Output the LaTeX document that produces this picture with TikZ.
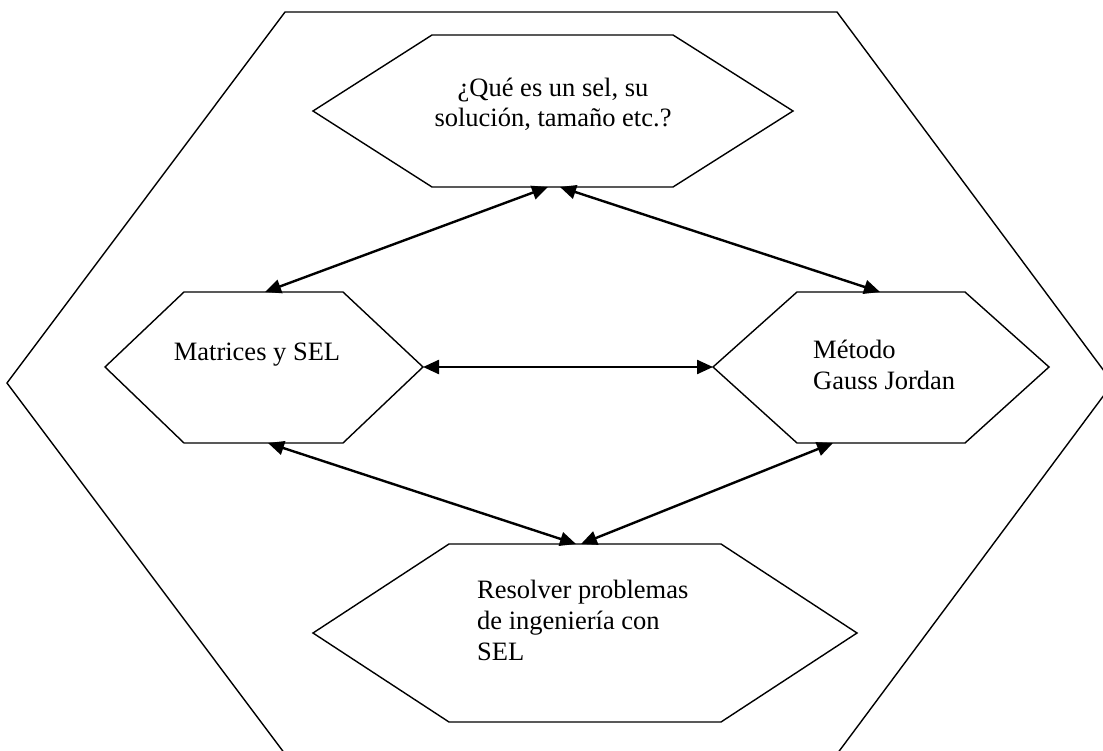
\documentclass[tikz,border=0pt]{standalone}
\usepackage{fontspec}
\setmainfont{Liberation Serif}
\usetikzlibrary{arrows.meta}
\begin{document}
\begin{tikzpicture}[x=1pt,y=-1pt,
  hexline/.style={line width=1.4pt, line join=miter},
  link/.style={line width=2.4pt, {Triangle[length=16pt,width=14pt]}-{Triangle[length=16pt,width=14pt]}},
  lbl/.style={inner sep=0pt, font=\fontsize{26.5}{30}\selectfont}]
\useasboundingbox (0,0) rectangle (1103,751);
% outer hexagon
\begin{scope}
\clip (0,0) rectangle (1103,751);
\draw[hexline] (7,383) -- (285,12) -- (837,12) -- (1113,383) -- (837,754) -- (285,754) -- cycle;
\end{scope}
% top hexagon
\draw[hexline] (313,111) -- (432,35) -- (673,35) -- (793,111) -- (673,187) -- (432,187) -- cycle;
% left hexagon
\draw[hexline] (105,367) -- (184,292) -- (343,292) -- (423,367) -- (343,443) -- (184,443) -- cycle;
% right hexagon
\draw[hexline] (713,367) -- (797,292) -- (965,292) -- (1049,367) -- (965,443) -- (797,443) -- cycle;
% bottom hexagon
\draw[hexline] (313,633) -- (449,544) -- (721,544) -- (857,633) -- (721,722) -- (449,722) -- cycle;
% labels
\node[lbl, anchor=base] (q1) at (553,97) {¿Qué es un sel, su};
\node[lbl, anchor=base] (q2) at (553,127) {solución, tamaño etc.?};
\node[lbl, anchor=base] (m1) at (257,360) {Matrices y SEL};
\node[lbl, anchor=base west] (g1) at (813,358) {Método};
\node[lbl, anchor=base west] (g2) at (813,389) {Gauss Jordan};
\node[lbl, anchor=base west] (r1) at (477,598) {Resolver problemas};
\node[lbl, anchor=base west] (r2) at (477,629) {de ingeniería con};
\node[lbl, anchor=base west] (r3) at (477,660) {SEL};
% connector end points
\coordinate (topL) at (548,187);
\coordinate (topR) at (560,187);
\coordinate (leftT) at (265,292);
\coordinate (rightT) at (880,292);
\coordinate (leftE) at (423,367);
\coordinate (rightW) at (713,367);
\coordinate (leftB) at (268,443);
\coordinate (rightB) at (833,443);
\coordinate (botL) at (576,544);
\coordinate (botR) at (581,544);
% connectors
\draw[link] (topL) -- (leftT);
\draw[link] (topR) -- (rightT);
\draw[link] (leftE) -- (rightW);
\draw[link] (leftB) -- (botL);
\draw[link] (rightB) -- (botR);
\end{tikzpicture}
\end{document}
